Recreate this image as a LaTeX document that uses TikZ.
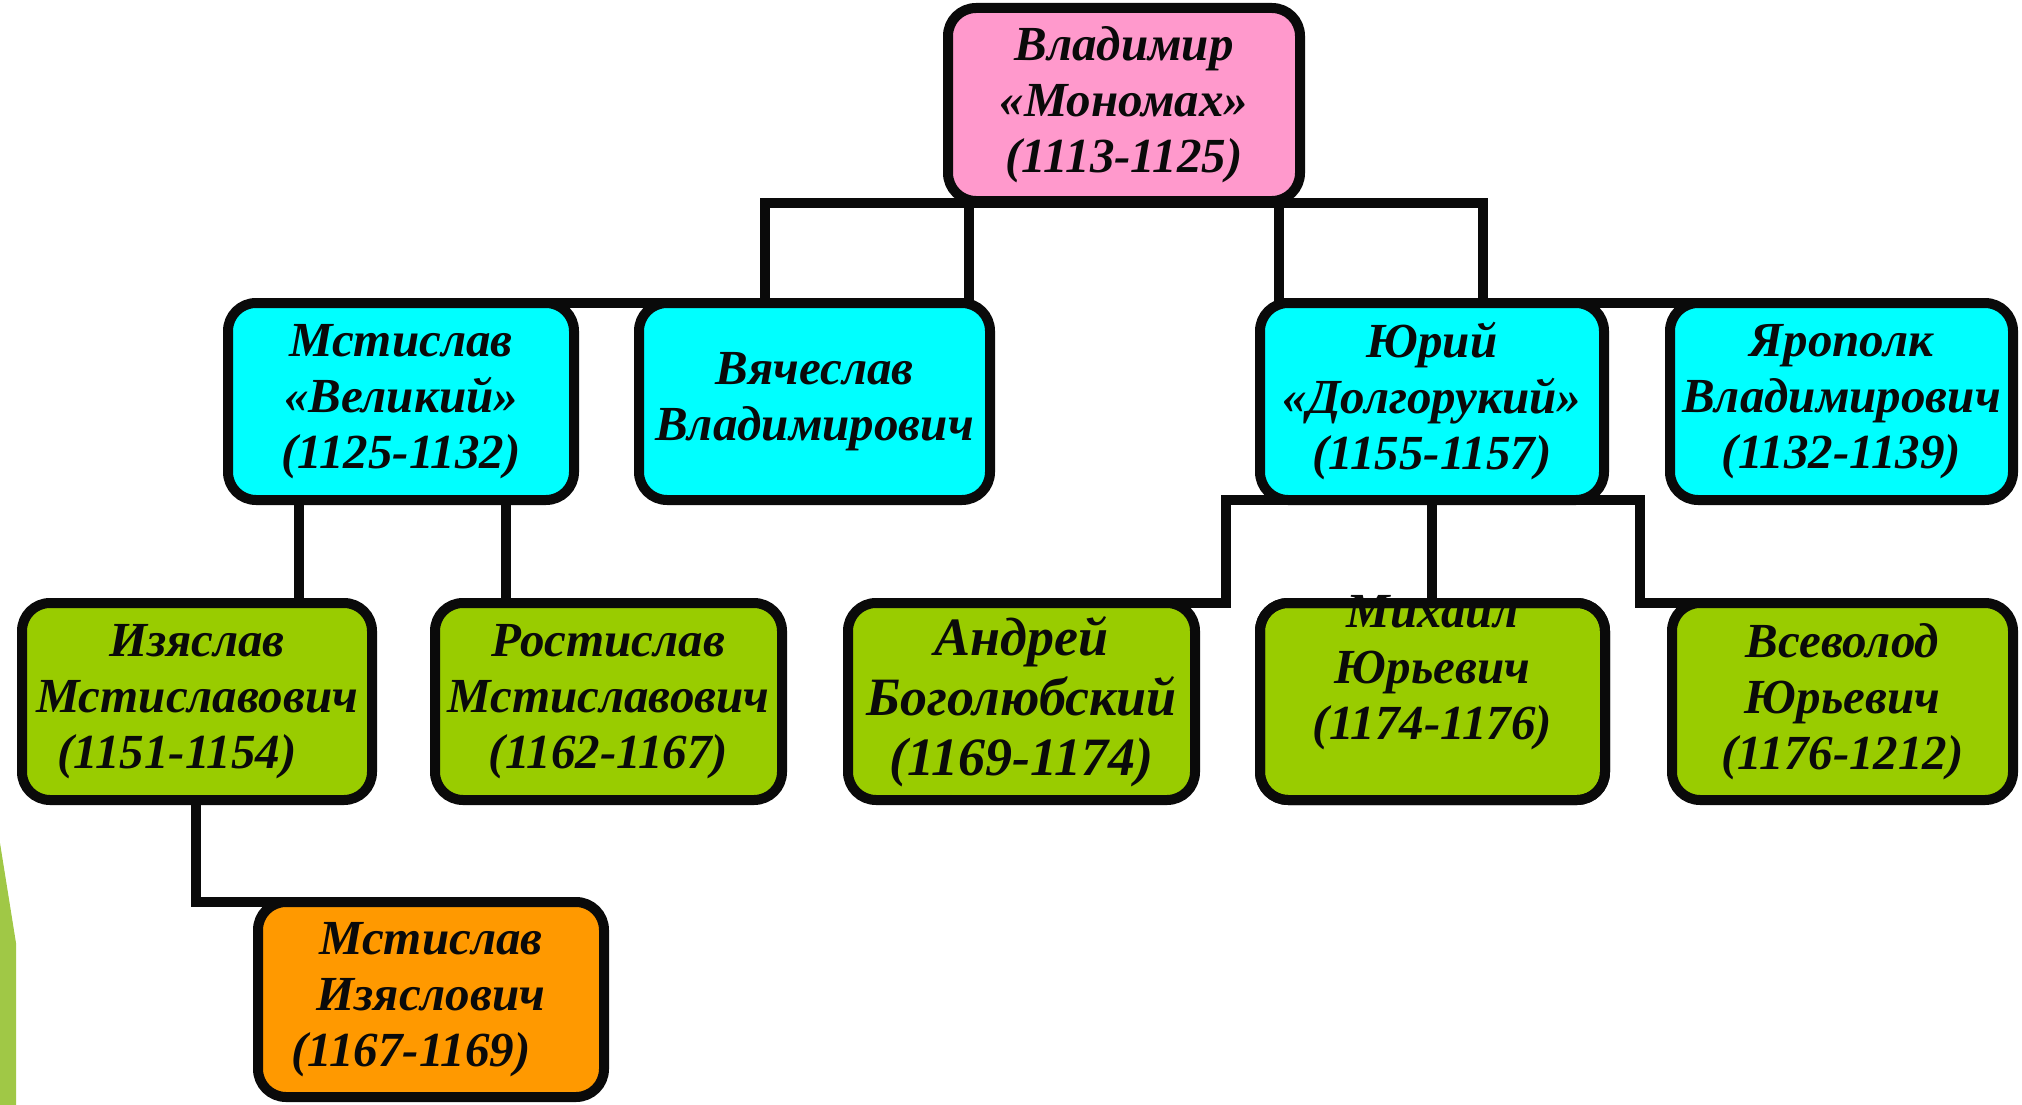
\documentclass[tikz,border=0pt]{standalone}
\usepackage{fontspec}
\setmainfont{Liberation Serif}
\definecolor{pinkbox}{HTML}{FF99CC}
\definecolor{cyanbox}{HTML}{00FFFF}
\definecolor{greenbox}{HTML}{99CC00}
\definecolor{orangebox}{HTML}{FF9900}
\definecolor{strip}{HTML}{A0C846}
\definecolor{ink}{HTML}{0A0A0A}
\tikzset{
  person/.style={draw=ink, line width=10pt, rounded corners=28pt, inner sep=0pt, outer sep=0pt,
    align=center, text=ink, font=\fontsize{49}{56}\selectfont\bfseries\itshape},
  conn/.style={draw=ink, line width=10pt, line cap=rect},
  borderonly/.style={draw=ink, line width=10pt, rounded corners=28pt}
}
\begin{document}
\begin{tikzpicture}[x=1pt,y=-1pt]
\useasboundingbox (0,0) rectangle (2022,1105);
\fill[white] (0,0) rectangle (2022,1105);
\fill[strip] (0,843) -- (16,943) -- (16,1105) -- (0,1105) -- cycle;

% junction points
\coordinate (bl) at (765,203);
\coordinate (bm) at (969,203);
\coordinate (bn) at (1279,203);
\coordinate (br) at (1483,203);
\coordinate (rt) at (765,303);
\coordinate (yl) at (1226,500);
\coordinate (yr) at (1640,500);
\coordinate (yl2) at (1226,603);
\coordinate (yr2) at (1640,603);
\coordinate (iz) at (196,800);
\coordinate (iz2) at (196,902);
\coordinate (ml) at (299,500);
\coordinate (mr) at (506,500);

% box positions (named) used by connectors drawn under the boxes
\path (1124,104.5) coordinate (vladc) (401,401.5) coordinate (mstc) (814.5,401.5) coordinate (vyac)
      (1432,401.5) coordinate (yuric) (1841.5,401.5) coordinate (yarc)
      (1021.5,701.5) coordinate (andrc) (1842.5,701.5) coordinate (vsevc) (431,999.5) coordinate (msti2c);

% connectors (under the boxes)
\draw[conn] (bl) -- (br);
\draw[conn] (bl) -- (bl |- rt);
\draw[conn] (bm) -- (bm |- rt);
\draw[conn] (bn) -- (bn |- rt);
\draw[conn] (br) -- (br |- rt);
\draw[conn] (mstc |- rt) -- (vyac |- rt);
\draw[conn] (yuric |- rt) -- (yarc |- rt);
\draw[conn] (ml) -- (ml |- yl2);
\draw[conn] (mr) -- (mr |- yl2);
\draw[conn] (yl) -- (yr);
\draw[conn] (yl) -- (yl2) -- (andrc |- yl2);
\draw[conn] (yuric |- yl) -- (yuric |- yl2);
\draw[conn] (yr) -- (yr2) -- (vsevc |- yr2);
\draw[conn] (iz) -- (iz2) -- (msti2c |- iz2);

% row 1
\node[person, fill=pinkbox, minimum width=352pt, minimum height=193pt] (vlad) at (vladc)
  {\raisebox{-4pt}{\parbox{340pt}{\centering Владимир\\«Мономах»\\(1113-1125)}}};
% row 2
\node[person, fill=cyanbox, minimum width=346pt, minimum height=197pt] (mst) at (mstc)
  {Мстислав\\«Великий»\\(1125-1132)};
\node[person, fill=cyanbox, minimum width=351pt, minimum height=197pt] (vya) at (vyac)
  {Вячеслав\\Владимирович};
\node[person, fill=cyanbox, minimum width=344pt, minimum height=197pt] (yuri) at (yuric)
  {Юрий\\«Долгорукий»\\(1155-1157)};
\node[person, fill=cyanbox, minimum width=343pt, minimum height=197pt] (yar) at (yarc)
  {Ярополк\\Владимирович\\(1132-1139)};
% row 3
\node[person, fill=greenbox, minimum width=350pt, minimum height=197pt] (izy) at (197,701.5)
  {Изяслав\\Мстиславович\\\hspace*{-40pt}(1151-1154)};
\node[person, fill=greenbox, minimum width=347pt, minimum height=197pt] (ros) at (608.5,701.5)
  {Ростислав\\Мстиславович\\(1162-1167)};
\node[person, fill=greenbox, minimum width=347pt, minimum height=197pt,
  font=\fontsize{54}{60}\selectfont\bfseries\itshape] (andr) at (andrc)
  {Андрей\\Боголюбский\\(1169-1174)};
\node[person, fill=greenbox, minimum width=345pt, minimum height=197pt] (mikh) at (1432.5,701.5) {};
\node[align=center, text=ink, inner sep=0pt, font=\fontsize{49}{56}\selectfont\bfseries\itshape]
  (mikhtext) at (1432.5,673) {Михаил\\Юрьевич\\(1174-1176)};
\draw[borderonly] (mikh.north west) rectangle (mikh.south east);
\node[person, fill=greenbox, minimum width=341pt, minimum height=197pt] (vsev) at (vsevc)
  {Всеволод\\Юрьевич\\(1176-1212)};
% row 4
\node[person, fill=orangebox, minimum width=346pt, minimum height=195pt] (msti2) at (msti2c)
  {Мстислав\\Изяслович\\\hspace*{-40pt}(1167-1169)};
\end{tikzpicture}
\end{document}
